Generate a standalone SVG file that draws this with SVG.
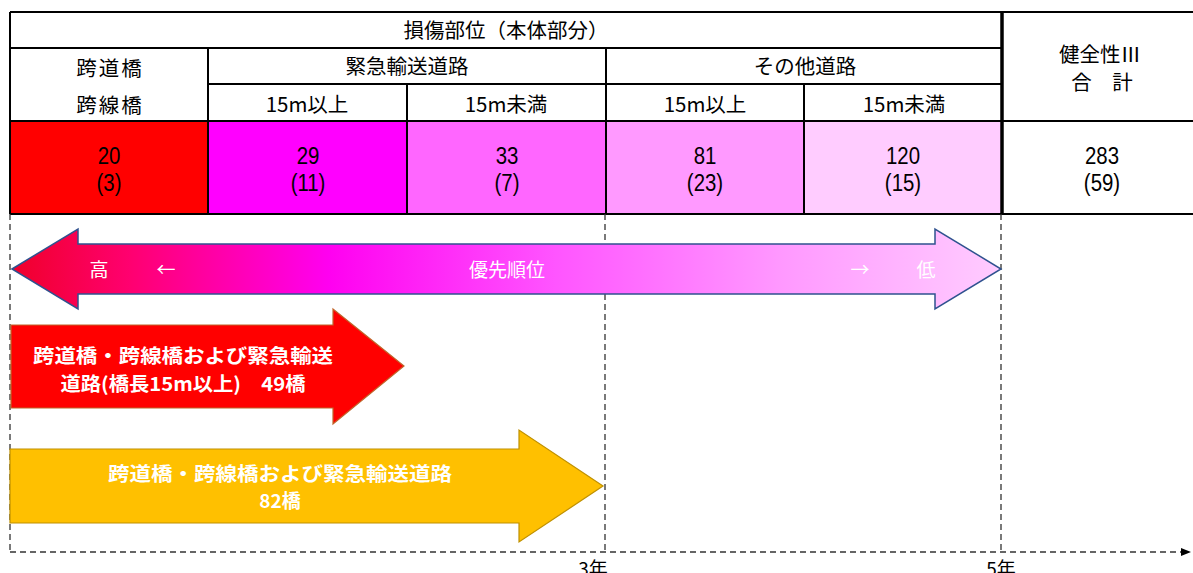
<svg xmlns="http://www.w3.org/2000/svg" width="1193" height="573" viewBox="0 0 1193 573">
<style>
.jp{font-family:"Noto Sans CJK JP","Liberation Sans",sans-serif;fill:#000;text-anchor:middle}
.num{font-family:"Liberation Sans","Noto Sans",sans-serif;fill:#000;text-anchor:middle;font-size:24px}
.h{font-size:20.5px}
.wt{font-family:"Noto Sans CJK JP","Liberation Sans",sans-serif;fill:#fff;text-anchor:middle;font-size:19px}
.wb{font-family:"Noto Sans CJK JP","Liberation Sans",sans-serif;fill:#fff;text-anchor:middle;font-size:19px;font-weight:bold}
.grid{stroke:#000;stroke-width:2;fill:none}
.dash{stroke:#333;stroke-width:1.3;stroke-dasharray:6,4;fill:none}
</style>
<defs>
<linearGradient id="pg" gradientUnits="userSpaceOnUse" x1="12" y1="0" x2="1001" y2="0">
<stop offset="0" stop-color="#F0002A"/>
<stop offset="0.12" stop-color="#FF0070"/>
<stop offset="0.32" stop-color="#FF00F0"/>
<stop offset="0.55" stop-color="#FF55FF"/>
<stop offset="0.78" stop-color="#FF99FF"/>
<stop offset="1" stop-color="#FFCCFF"/>
</linearGradient>
<marker id="ah" markerWidth="10" markerHeight="10" refX="9" refY="5" orient="auto" markerUnits="userSpaceOnUse">
<path d="M0,1 L10,5 L0,9 Z" fill="#000"/>
</marker>
</defs>

<g id="table">
<rect x="10" y="121" width="198" height="93" fill="#FF0000"/>
<rect x="208" y="121" width="199" height="93" fill="#FF00FF"/>
<rect x="407" y="121" width="199" height="93" fill="#FF66FF"/>
<rect x="606" y="121" width="198" height="93" fill="#FF99FF"/>
<rect x="804" y="121" width="198" height="93" fill="#FFCCFF"/>
<path class="grid" d="M10,12 H1193 M10,48 H1002 M208,84 H1002 M10,121 H1193 M10,214 H1193 M10,12 V214 M208,48 V214 M407,84 V214 M606,48 V214 M804,84 V214"/>
<path d="M1002,11 V215" stroke="#000" stroke-width="3.5"/>
<text class="jp h" x="506" y="38">損傷部位（本体部分）</text>
<text class="jp h" x="110" y="76" letter-spacing="2">跨道橋</text>
<text class="jp h" x="110" y="113" letter-spacing="2">跨線橋</text>
<text class="jp h" x="407" y="74">緊急輸送道路</text>
<text class="jp h" x="805" y="74">その他道路</text>
<text class="jp h" x="307" y="112">15m以上</text>
<text class="jp h" x="506" y="112">15m未満</text>
<text class="jp h" x="705" y="112">15m以上</text>
<text class="jp h" x="904" y="112">15m未満</text>
<text class="jp h" x="1100" y="62">健全性Ⅲ</text>
<text class="jp h" x="1102" y="90">合　計</text>
<text class="num" transform="translate(109,164) scale(0.85,1)">20</text><text class="num" transform="translate(109,191) scale(0.85,1)">(3)</text>
<text class="num" transform="translate(308,164) scale(0.85,1)">29</text><text class="num" transform="translate(308,191) scale(0.85,1)">(11)</text>
<text class="num" transform="translate(507,164) scale(0.85,1)">33</text><text class="num" transform="translate(507,191) scale(0.85,1)">(7)</text>
<text class="num" transform="translate(705,164) scale(0.85,1)">81</text><text class="num" transform="translate(705,191) scale(0.85,1)">(23)</text>
<text class="num" transform="translate(903,164) scale(0.85,1)">120</text><text class="num" transform="translate(903,191) scale(0.85,1)">(15)</text>
<text class="num" transform="translate(1102,164) scale(0.85,1)">283</text><text class="num" transform="translate(1102,191) scale(0.85,1)">(59)</text>
</g>

<g id="connectors">
<path class="dash" d="M10,214 V552"/>
<path class="dash" d="M605,214 V552"/>
<path class="dash" d="M1001,214 V552"/>
<path class="dash" d="M10,552 H1190" marker-end="url(#ah)"/>
</g>

<g id="priority-arrow">
<path d="M12,269 L78,229 V244 H935 V229 L1001,269 L935,309 V294 H78 V309 Z" fill="url(#pg)" stroke="#2F528F" stroke-width="1.5"/>
<text class="wt" x="99" y="277">高</text>
<text class="wt" x="166" y="277">←</text>
<text class="wt" x="507" y="277">優先順位</text>
<text class="wt" x="860" y="277">→</text>
<text class="wt" x="926" y="277">低</text>
</g>

<g id="red-arrow">
<path d="M11,325 H333 V309 L404,366 L333,424 V408 H11 Z" fill="#FF0000" stroke="#C0652A" stroke-width="1.2"/>
<text class="wb" x="183" y="363" textLength="300" lengthAdjust="spacingAndGlyphs">跨道橋・跨線橋および緊急輸送</text>
<text class="wb" x="183" y="391" textLength="245" lengthAdjust="spacingAndGlyphs">道路(橋長15m以上)　49橋</text>
</g>

<g id="orange-arrow">
<path d="M10,449 H519 V430 L603,486 L519,542 V523 H10 Z" fill="#FFC000" stroke="#BF9000" stroke-width="1.2"/>
<text class="wb" x="280" y="481" textLength="344" lengthAdjust="spacingAndGlyphs">跨道橋・跨線橋および緊急輸送道路</text>
<text class="wb" x="280" y="508">82橋</text>
</g>

<g id="axis-labels">
<text class="jp" x="593" y="576" font-size="19">3年</text>
<text class="jp" x="1001" y="576" font-size="19">5年</text>
</g>
</svg>
